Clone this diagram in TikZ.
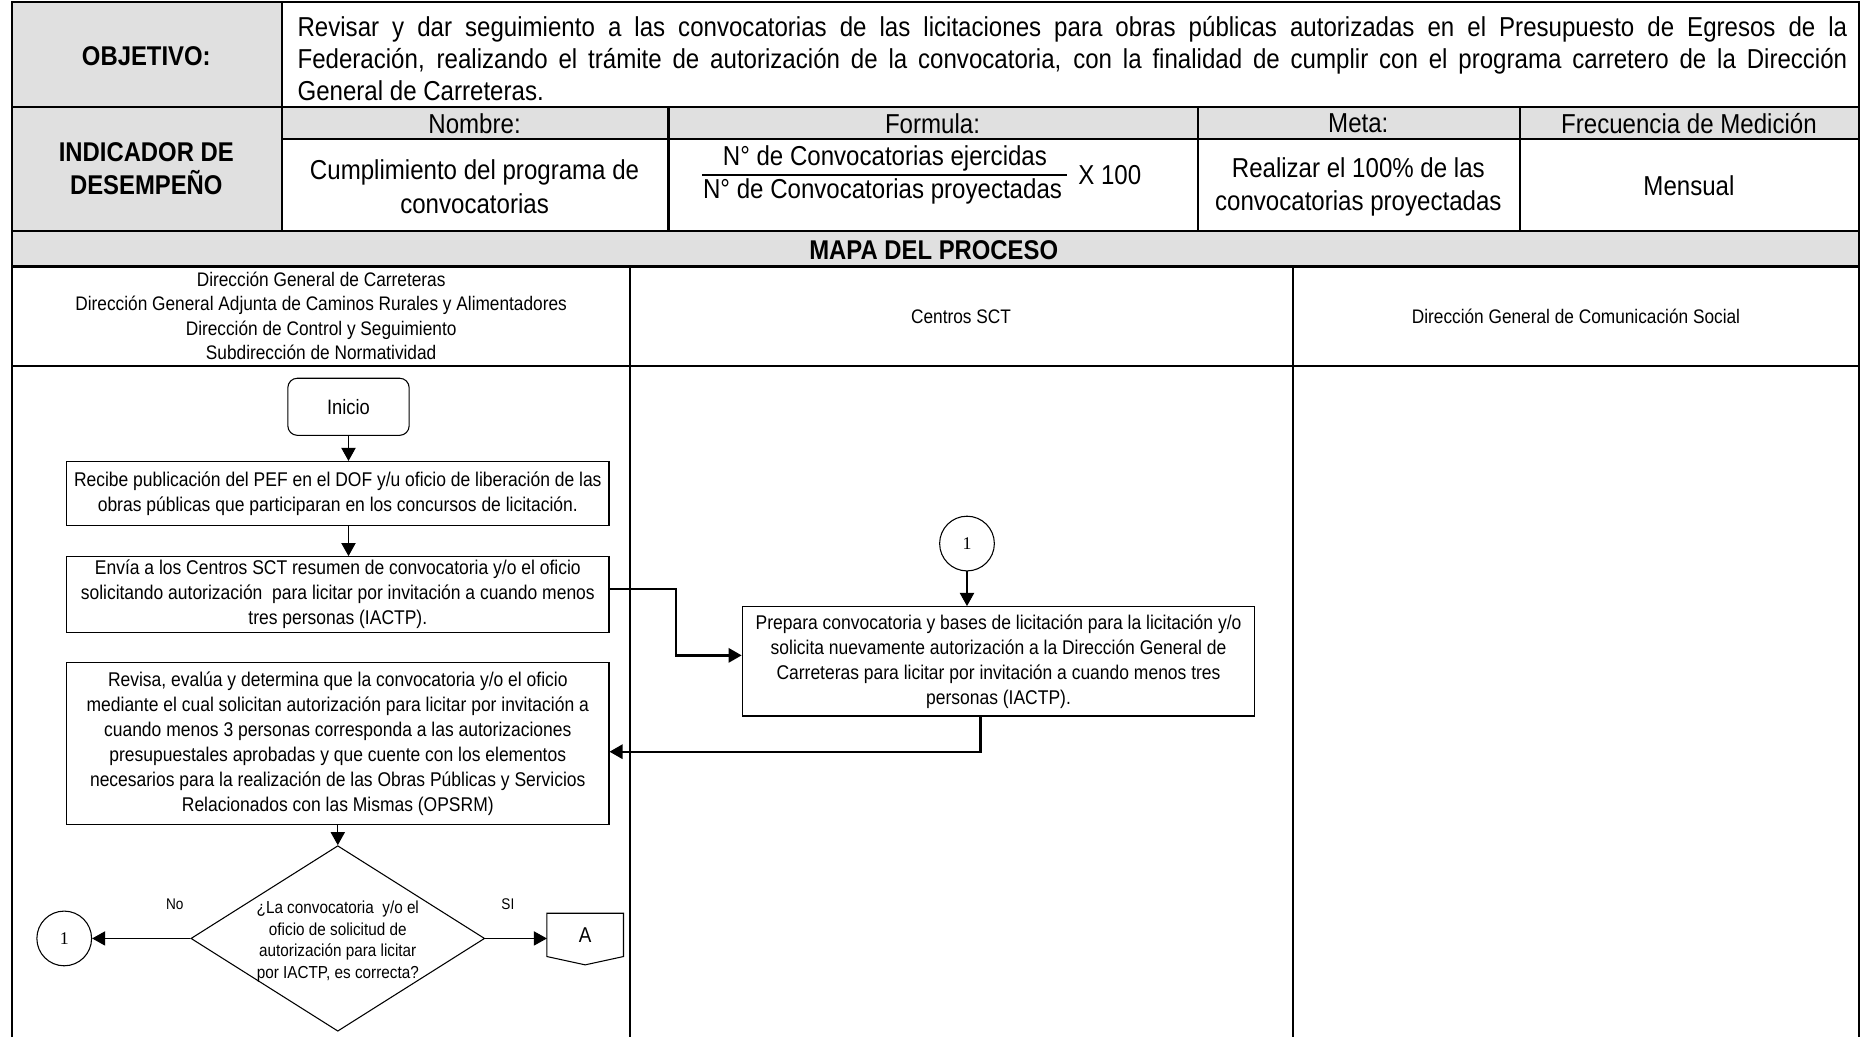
\documentclass[tikz,border=0pt]{standalone}
\usepackage{fontspec}
\setmainfont[FakeStretch=0.88]{Liberation Sans}
\newfontfamily\tmsfont{Liberation Serif}
\usetikzlibrary{positioning,arrows.meta,shapes.geometric}
\definecolor{headgray}{RGB}{224,224,224}

\begin{document}
\begin{tikzpicture}[x=1pt,y=-1pt]
    \tikzset{rule/.style={line width=1.8pt}}
    \tikzset{txt/.style={inner sep=0pt, align=center, font=\fontsize{23}{28}\selectfont}}
    \tikzset{hd/.style={txt, font=\fontsize{22.8}{28}\selectfont\bfseries}}
    \tikzset{lane/.style={inner sep=0pt, align=center, font=\fontsize{16.5}{20.5}\selectfont}}
    \tikzset{block/.style={rectangle, draw, line width=0.9pt, inner sep=0pt, align=center, font=\fontsize{16.7}{21}\selectfont}}
    \tikzset{conn/.style={circle, draw, line width=0.9pt, minimum size=46pt, inner sep=0pt, font=\tmsfont\fontsize{15}{15}\selectfont}}
    \tikzset{dec/.style={diamond, draw, line width=0.9pt, minimum width=247pt, minimum height=156pt, inner sep=0pt}}
    \tikzset{offp/.style={rectangle, minimum width=64pt, minimum height=36pt, inner sep=0pt, font=\fontsize{18}{18}\selectfont}}
    \tikzset{line/.style={draw, line width=0.9pt, -{Triangle[length=11pt,width=12pt]}}}
    \tikzset{thkline/.style={line, line width=2pt}}
    \useasboundingbox (0,0) rectangle (1568,872);

    \fill[headgray] (10,2) rectangle (237,194);
    \fill[headgray] (237,90) rectangle (1563,117);
    \fill[headgray] (10,194) rectangle (1563,224);
    \draw[rule] (10,872) -- (10,2) -- (1563,2) -- (1563,872);
    \draw[rule] (10,90) -- (1563,90);
    \draw[rule] (237,117) -- (1563,117);
    \draw[rule] (10,194) -- (1563,194);
    \draw[rule] (10,224) -- (1563,224);
    \draw[rule] (10,308) -- (1563,308);
    \draw[rule] (237,2) -- (237,194);
    \foreach \x in {562,1007,1278} \draw[rule] (\x,90) -- (\x,194);
    \foreach \x in {530,1087} \draw[rule] (\x,224) -- (\x,872);

    \node[hd] (obj) at (123,47) {OBJETIVO:};
    \node[txt, font=\fontsize{23}{27}\selectfont, anchor=west, text width=1303pt, align=justify] (objtxt) at (250,49)
        {Revisar y dar seguimiento a las convocatorias de las licitaciones para obras públicas autorizadas en el Presupuesto de Egresos de la\linebreak
         Federación, realizando el trámite de autorización de la convocatoria, con la finalidad de cumplir con el programa carretero de la Dirección\linebreak
         General de Carreteras.};
    \node[hd] (ind) at (123,142) {INDICADOR DE\\DESEMPEÑO};
    \node[txt] (hnom) at (399,104) {Nombre:};
    \node[txt] (hform) at (784,104) {Formula:};
    \node[txt] (hmeta) at (1142,104) {Meta:};
    \node[txt] (hfrec) at (1420,104) {Frecuencia de Medición};
    \node[txt] (nom) at (399,157) {Cumplimiento del programa de\\convocatorias};
    \node[txt] (num) at (744,133) {N° de Convocatorias ejercidas};
    \node[txt] (den) at (742,161) {N° de Convocatorias proyectadas};
    \draw[line width=1.2pt] (590,147) -- (897,147);
    \node[txt] (xcien) at (933,147) {X 100};
    \node[txt] (meta) at (1142,157) {Realizar el 100\% de las\\convocatorias proyectadas};
    \node[txt] (frec) at (1420,156) {Mensual};
    \node[hd] (mapa) at (785,210) {MAPA DEL PROCESO};
    \node[lane] (lane1) at (270,265.5) {Dirección General de Carreteras\\Dirección General Adjunta de Caminos Rurales y Alimentadores\\Dirección de Control y Seguimiento\\Subdirección de Normatividad};
    \node[lane] (lane2) at (808,266) {Centros SCT};
    \node[lane] (lane3) at (1325,266) {Dirección General de Comunicación Social};

    \node[block, rounded corners=8pt, minimum width=102pt, minimum height=48pt, font=\fontsize{17.5}{21}\selectfont] (ini) at (293,342) {Inicio};
    \node[block, minimum width=456pt, minimum height=54pt] (rec) at (284,415)
        {Recibe publicación del PEF en el DOF y/u oficio de liberación de las\\obras públicas que participaran en los concursos de licitación.};
    \node[block, minimum width=456pt, minimum height=64pt] (env) at (284,500)
        {Envía a los Centros SCT resumen de convocatoria y/o el oficio\\solicitando autorización\ \ para licitar por invitación a cuando menos\\tres personas (IACTP).};
    \node[block, minimum width=456pt, minimum height=136pt] (rev) at (284,625)
        {Revisa, evalúa y determina que la convocatoria y/o el oficio\\mediante el cual solicitan autorización para licitar por invitación a\\cuando menos 3 personas corresponda a las autorizaciones\\presupuestales aprobadas y que cuente con los elementos\\necesarios para la realización de las Obras Públicas y Servicios\\Relacionados con las Mismas (OPSRM)};
    \node[conn] (c1a) at (813,457) {1};
    \node[block, minimum width=431pt, minimum height=92pt] (prep) at (839.5,556)
        {Prepara convocatoria y bases de licitación para la licitación y/o\\solicita nuevamente autorización a la Dirección General de\\Carreteras para licitar por invitación a cuando menos tres\\personas (IACTP).};
    \node[dec] (q) at (284,789) {};
    \node[inner sep=0pt, align=center, font=\fontsize{14.6}{18}\selectfont] (qtxt) at (284,791.5)
        {¿La convocatoria\ \ y/o el\\oficio de solicitud de\\autorización para licitar\\por IACTP, es correcta?};
    \node[conn] (c1b) at (54,789) {1};
    \node[offp] (pa) at (492,786) {A};
    \draw[line width=0.9pt] (pa.north west) -- (pa.north east) -- (pa.south east) -- ([yshift=-7pt]pa.south) -- (pa.south west) -- cycle;
    \node[font=\fontsize{13}{13}\selectfont] (lno) at (147,760) {No};
    \node[font=\fontsize{13}{13}\selectfont] (lsi) at (427,760) {SI};

    \draw[line] (ini.south) -- (ini.south |- rec.north);
    \draw[line] (ini.south |- rec.south) -- (ini.south |- env.north);
    \draw[thkline] ([yshift=5pt]env.east) -- ++(56,0) |- ([yshift=5pt]prep.west);
    \draw[line] (c1a.south) -- (c1a.south |- prep.north);
    \draw[thkline] ([xshift=-15pt]prep.south) |- ([yshift=-7pt]rev.east);
    \draw[line] (rev.south) -- (q.north);
    \draw[line] (q.west) -- (c1b.east);
    \draw[line] (q.east) -- (q.east -| pa.west);
\end{tikzpicture}
\end{document}
